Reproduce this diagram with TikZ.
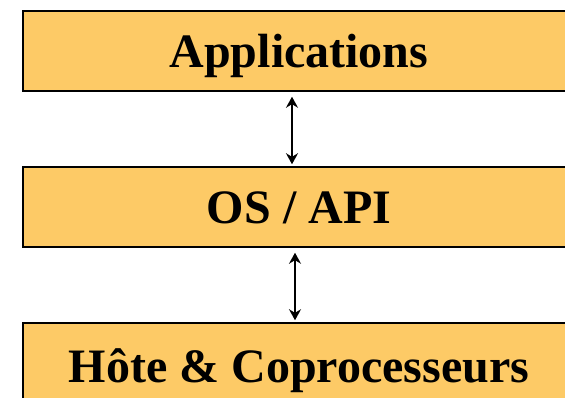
\documentclass[tikz,border=0pt]{standalone}
\usepackage{fontspec}
\setmainfont{Liberation Serif}
\usepackage{xcolor}
\usepackage{tikz}
\usetikzlibrary{arrows.meta}
\definecolor{layerfill}{HTML}{FDCA66}

\begin{document}
\begin{tikzpicture}[x=1pt,y=-1pt]
\tikzstyle{layer}=[draw=black, line width=1.5pt, fill=layerfill, minimum width=552pt, minimum height=80pt, inner sep=0pt, text height=34pt, text depth=0pt, font=\fontsize{48}{56}\selectfont\bfseries]
\tikzstyle{link}=[line width=1.6pt, {Stealth[length=11pt,width=12pt]}-{Stealth[length=11pt,width=12pt]}]
\useasboundingbox (0,0) rectangle (565,398);
\node [layer] (app) at (299,51) {Applications};
\node [layer] (os) at (299,207) {OS / API};
\node [layer, minimum height=84pt] (hw) at (299,365) {Hôte \& Coprocesseurs};
\draw [link, shorten <=5pt, shorten >=2pt] ([xshift=-7pt]app.south) -- ([xshift=-7pt]os.north);
\draw [link, shorten <=5pt, shorten >=2pt] ([xshift=-4pt]os.south) -- ([xshift=-4pt]hw.north);
\end{tikzpicture}
\end{document}
